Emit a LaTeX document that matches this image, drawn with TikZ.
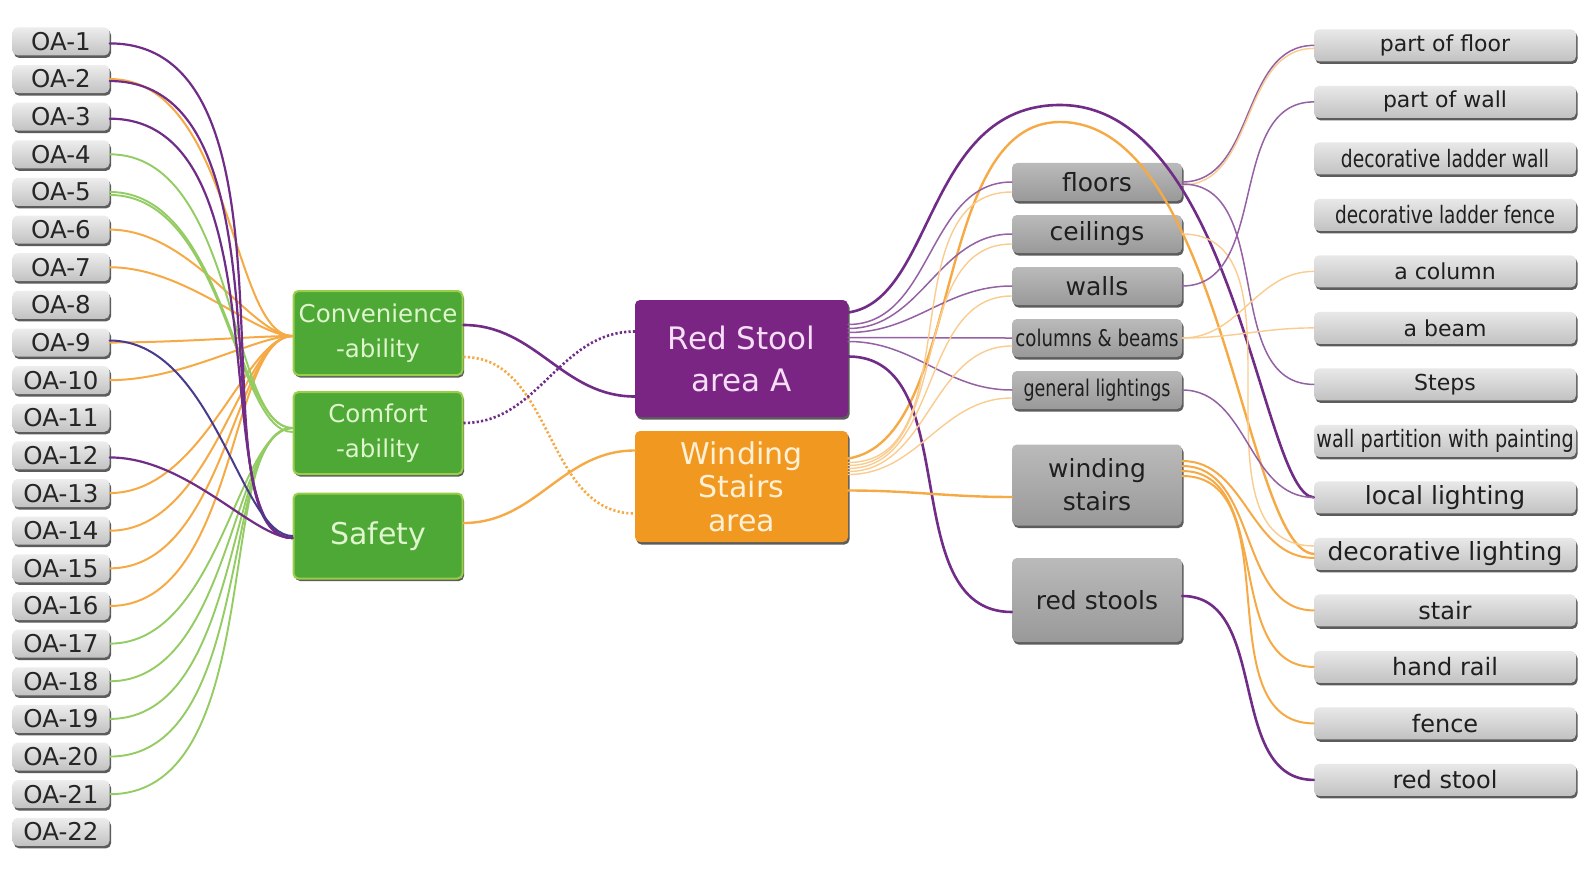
\documentclass[tikz,border=0pt]{standalone}
\usepackage{fontspec}
\setmainfont{DejaVu Sans}
\usetikzlibrary{shadows,calc}
\definecolor{rsPurple}{RGB}{122,36,132}
\definecolor{rsText}{RGB}{246,222,246}
\definecolor{wsOrange}{RGB}{241,152,32}
\definecolor{wsText}{RGB}{255,240,214}
\definecolor{evGreen}{RGB}{78,168,54}
\definecolor{evRim}{RGB}{152,206,72}
\definecolor{evText}{RGB}{222,245,205}
\definecolor{lnPurple}{RGB}{112,44,134}
\definecolor{lnOrange}{RGB}{246,170,70}
\definecolor{lnGreen}{RGB}{148,204,100}
\definecolor{lnBlue}{RGB}{72,58,140}
\newcommand{\sqz}[2][0.78]{\scalebox{#1}[1]{#2}}

\begin{document}
\begin{tikzpicture}[x=1pt, y=-1pt, line cap=round]
  \tikzset{
    box/.style={rounded corners=5pt, inner sep=0pt, align=center,
                drop shadow={shadow xshift=1.5pt, shadow yshift=-2.5pt,
                             fill=black!75, opacity=.85}},
    oabox/.style={box, top color=black!7, bottom color=black!24,
                  minimum width=97pt, minimum height=28pt, text=black!85,
                  font=\fontsize{24.5}{26}\selectfont},
    evbox/.style={box, fill=evGreen, draw=evRim, line width=2pt,
                  minimum width=169pt, text=evText,
                  font=\fontsize{24.5}{35}\selectfont},
    areabox/.style={box, fill=#1, minimum width=213pt},
    elbox/.style={box, top color=black!27, bottom color=black!40,
                  minimum width=170pt, minimum height=38pt, text=black!88,
                  font=\fontsize{25}{33}\selectfont},
    itbox/.style={box, top color=black!9, bottom color=black!24,
                  minimum width=262pt, minimum height=32pt, text=black!88,
                  font=\fontsize{22}{24}\selectfont},
    thickP/.style={draw=lnPurple, line width=2.6pt},
    thinP/.style={draw=lnPurple!75, line width=1.5pt},
    thickO/.style={draw=lnOrange, line width=2.4pt},
    thinO/.style={draw=lnOrange!60, line width=1.4pt},
    grn/.style={draw=lnGreen, line width=1.9pt},
    dots/.style={line width=2.6pt, dash pattern=on 2.2pt off 2.2pt, line cap=butt},
    fan/.style={out=0, in=180, in looseness=0.5}
  }
  \fill[white] (0,0) rectangle (1581,869);
  \useasboundingbox (0,0) rectangle (1581,869);

  % evaluation items
  \foreach \i in {1,...,22}
    \node[oabox] (oa\i) at (61,{41.4+(\i-1)*37.64}) {OA-\i};

  \node[evbox, minimum height=84pt] (conv) at (378,333) {Convenience\\-ability};
  \node[evbox, minimum height=82pt] (comf) at (378,433) {Comfort\\-ability};
  \node[evbox, minimum height=85pt, font=\fontsize{30}{35}\selectfont] (safe) at (378,536) {Safety};

  \node[areabox=rsPurple, minimum height=117pt, text=rsText,
        font=\fontsize{31}{42}\selectfont] (rs) at (741.5,358.5) {Red Stool\\area A};
  \node[areabox=wsOrange, minimum height=111pt, text=wsText,
        font=\fontsize{30}{33.5}\selectfont] (wsa) at (741.5,486.5) {Winding\\Stairs\\area};

  % elements
  \node[elbox] (floors) at (1097,182) {floors};
  \node[elbox] (ceil)   at (1097,234) {ceilings};
  \node[elbox] (walls)  at (1097,286) {walls};
  \node[elbox, font=\fontsize{23}{25}\selectfont] (colb) at (1097,338) {\sqz[0.79]{columns \& beams}};
  \node[elbox, font=\fontsize{23}{25}\selectfont] (genl) at (1097,390) {\sqz[0.76]{general lightings}};
  \node[elbox, minimum height=81pt] (wst) at (1097,485) {winding\\stairs};
  \node[elbox, minimum height=84pt] (rst) at (1097,600) {red stools};

  % parts
  \node[itbox] (pfloor)  at (1445,45.4)  {part of floor};
  \node[itbox] (pwall)   at (1445,101.9) {part of wall};
  \node[itbox, font=\fontsize{24}{26}\selectfont] (dlwall)  at (1445,158.4) {\sqz[0.78]{decorative ladder wall}};
  \node[itbox, font=\fontsize{24}{26}\selectfont] (dlfence) at (1445,214.9) {\sqz[0.77]{decorative ladder fence}};
  \node[itbox] (acol)    at (1445,271.4) {a column};
  \node[itbox] (abeam)   at (1445,327.9) {a beam};
  \node[itbox] (steps)   at (1445,384.4) {Steps};
  \node[itbox, font=\fontsize{24}{26}\selectfont] (wpart) at (1445,440.9) {\sqz[0.80]{wall partition with painting}};
  \node[itbox, font=\fontsize{25}{27}\selectfont] (llight) at (1445,497.4) {local lighting};
  \node[itbox, font=\fontsize{25}{27}\selectfont] (dlight) at (1445,553.9) {decorative lighting};
  \node[itbox, font=\fontsize{24}{26}\selectfont] (stair)  at (1445,610.4) {stair};
  \node[itbox, font=\fontsize{24}{26}\selectfont] (hrail)  at (1445,666.9) {hand rail};
  \node[itbox, font=\fontsize{24}{26}\selectfont] (fence)  at (1445,723.4) {fence};
  \node[itbox, font=\fontsize{24}{26}\selectfont] (rstool) at (1445,779.9) {red stool};

  % items -> evaluation groups
  \foreach \i in {2,6,7,9,10,13,14,15,16}
    \draw[thickO, line width=2pt] (oa\i.east) to[fan] ($(conv.west)+(0,3)$);
  \foreach \i in {4,5,17,18,19,20,21}
    \draw[grn] (oa\i.east) to[fan] ($(comf.west)+(0,-5)$);
  \draw[grn] ($(oa5.east)+(0,3)$) to[fan] ($(comf.west)+(0,-1)$);
  \foreach \i in {1,2,3,12}
    \draw[thickP, line width=2.2pt] ($(oa\i.east)+(0,2)$) to[fan] ($(safe.west)+(0,2)$);
  \draw[draw=lnBlue, line width=2pt] ($(oa9.east)+(0,-2)$) to[fan] ($(safe.west)+(0,0)$);

  % groups -> areas
  \draw[thickP] ($(conv.east)+(0,-8)$) to[out=0,in=180] ($(rs.west)+(0,38)$);
  \draw[dots, draw=lnOrange] ($(conv.east)+(0,24)$) to[out=0,in=180] ($(wsa.west)+(0,27)$);
  \draw[dots, draw=lnPurple] ($(comf.east)+(0,-10)$) to[out=0,in=180] ($(rs.west)+(0,-27)$);
  \draw[thickO] ($(safe.east)+(0,-13)$) to[out=0,in=180] ($(wsa.west)+(0,-36)$);

  % areas -> elements
  \draw[thickP] ($(rs.east)+(0,-46)$) .. controls (935,300) and (925,105) .. (1060,105)
                .. controls (1235,105) and (1262,495) .. (llight.west);
  \draw[thickO] ($(wsa.east)+(0,-28)$) .. controls (965,440) and (930,122) .. (1060,122)
                .. controls (1222,122) and (1245,550) .. (dlight.west);
  \draw[thinP] ($(rs.east)+(0,-34)$) to[out=0,in=180] (floors.west);
  \draw[thinP] ($(rs.east)+(0,-30)$) to[out=0,in=180] (ceil.west);
  \draw[thinP] ($(rs.east)+(0,-26)$) to[out=0,in=180] (walls.west);
  \draw[thinP] ($(rs.east)+(0,-21)$) to[out=0,in=180] (colb.west);
  \draw[thinP] ($(rs.east)+(0,-17)$) to[out=0,in=180] (genl.west);
  \draw[thickP] ($(rs.east)+(0,-2)$) to[out=0,in=180] ($(rst.west)+(0,12)$);
  \draw[thinO] ($(wsa.east)+(0,-24)$) to[out=0,in=180] ($(floors.west)+(0,10)$);
  \draw[thinO] ($(wsa.east)+(0,-21)$) to[out=0,in=180] ($(ceil.west)+(0,10)$);
  \draw[thinO] ($(wsa.east)+(0,-18)$) to[out=0,in=180] ($(walls.west)+(0,10)$);
  \draw[thinO] ($(wsa.east)+(0,-15)$) to[out=0,in=180] ($(colb.west)+(0,8)$);
  \draw[thinO] ($(wsa.east)+(0,-12)$) to[out=0,in=180] ($(genl.west)+(0,8)$);
  \draw[thickO] ($(wsa.east)+(0,4)$) to[out=0,in=180] ($(wst.west)+(0,12)$);

  % elements -> parts
  \draw[thinP] (floors.east) to[out=0,in=180] (pfloor.west);
  \draw[thinO] ($(floors.east)+(0,3)$) to[out=0,in=180] ($(pfloor.west)+(0,3)$);
  \draw[thinP] ($(floors.east)+(0,2)$) to[out=0,in=180] (steps.west);
  \draw[thinO] (ceil.east) to[out=0,in=180] ($(dlight.west)+(0,-8)$);
  \draw[thinP] (walls.east) to[out=0,in=180] (pwall.west);
  \draw[thinO] (colb.east) to[out=0,in=180] (acol.west);
  \draw[thinO] (colb.east) to[out=0,in=180] (abeam.west);
  \draw[thinP] (genl.east) to[out=0,in=180] (llight.west);
  \draw[thickO, line width=2pt] ($(wst.east)+(0,-24)$) to[out=0,in=180] ($(dlight.west)+(0,4)$);
  \draw[thickO, line width=2pt] ($(wst.east)+(0,-19)$) to[out=0,in=180] (stair.west);
  \draw[thickO, line width=2pt] ($(wst.east)+(0,-14)$) to[out=0,in=180] (hrail.west);
  \draw[thickO, line width=2pt] ($(wst.east)+(0,-9)$) to[out=0,in=180] (fence.west);
  \draw[thickP] ($(rst.east)+(0,-4)$) to[out=0,in=180] (rstool.west);
\end{tikzpicture}
\end{document}
